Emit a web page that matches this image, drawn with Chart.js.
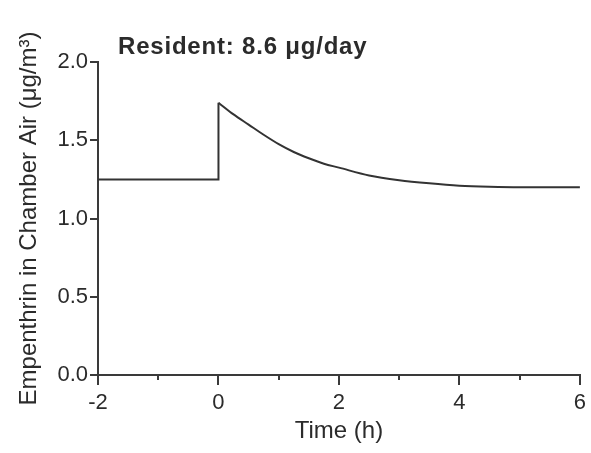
<!DOCTYPE html>
<html>
<head>
<meta charset="utf-8">
<script src="https://cdn.jsdelivr.net/npm/chart.js@4"></script>
<style>
    body { margin: 0; background: #fff; }
    #chart { display: block; }
</style>
</head>
<body>
<canvas id="chart" width="591" height="453"></canvas>
<script>
// values (time in h, concentration in ug/m3)
// before dosing + the step up at t = 0
const baseTimes = [-2, 0, 0];
const baseConc = [1.25, 1.25, 1.74];
// decay after the step
const decayTimes = [0, 0.25, 0.5, 0.75, 1, 1.25, 1.5, 1.75, 2, 2.5, 3, 3.5, 4, 4.5, 5, 5.5, 6];
const decayConc = [1.74, 1.665, 1.6, 1.535, 1.475, 1.425, 1.385, 1.35, 1.325, 1.275, 1.245, 1.225, 1.21, 1.203, 1.2, 1.2, 1.2];
const xTicks = [-2, 0, 2, 4, 6];
const xMinorTicks = [-1, 1, 3, 5];
const yTicks = [0, 0.5, 1, 1.5, 2];
const panelLabel = 'Resident: 8.6 \u03bcg/day';
const xTitle = 'Time (h)';
const yTitle = 'Empenthrin in Chamber Air (\u03bcg/m\u00b3)';

const FONT = "'Liberation Sans', Arial, sans-serif";
const INK = '#2b2b2b';
const AXIS = '#3a3a3a';

const toPoints = (xs, ys) => xs.map((t, i) => ({ x: t, y: ys[i] }));

// panel label in the upper left of the plot
const labelPlugin = {
    id: 'panelLabel',
    afterDraw(chart) {
        const ctx = chart.ctx;
        ctx.save();
        ctx.font = 'bold 24px ' + FONT;
        ctx.letterSpacing = '0.8px';
        ctx.fillStyle = INK;
        ctx.textBaseline = 'alphabetic';
        ctx.fillText(panelLabel, chart.chartArea.left + 20, 54);
        ctx.restore();
    }
};

const lineStyle = {
    showLine: true,
    borderColor: '#333',
    borderWidth: 2,
    pointRadius: 0,
    fill: false
};

new Chart(document.getElementById('chart'), {
    type: 'scatter',
    data: {
        datasets: [
            Object.assign({ data: toPoints(baseTimes, baseConc), tension: 0 }, lineStyle),
            Object.assign({ data: toPoints(decayTimes, decayConc), cubicInterpolationMode: 'monotone' }, lineStyle)
        ]
    },
    options: {
        responsive: false,
        animation: false,
        devicePixelRatio: 1,
        layout: { padding: { top: 62, right: 10, left: 0, bottom: 0 } },
        plugins: {
            legend: { display: false },
            tooltip: { enabled: false }
        },
        scales: {
            x: {
                type: 'linear',
                min: -2,
                max: 6,
                afterBuildTicks: scale => { scale.ticks = xTicks.map(v => ({ value: v })); },
                afterFit: scale => { scale.height = 78; },
                border: { color: AXIS, width: 2 },
                grid: { drawOnChartArea: false, drawTicks: true, tickLength: 10, tickColor: AXIS, lineWidth: 2 },
                ticks: {
                    color: INK,
                    padding: 5,
                    font: { family: FONT, size: 22 },
                    callback: v => String(v)
                },
                title: {
                    display: true,
                    text: xTitle,
                    color: INK,
                    font: { family: FONT, size: 24 },
                    padding: { top: 0, bottom: 7 }
                }
            },
            // minor ticks at the odd hours
            xMinor: {
                type: 'linear',
                position: 'bottom',
                weight: -1,
                min: -2,
                max: 6,
                afterBuildTicks: scale => { scale.ticks = xMinorTicks.map(v => ({ value: v })); },
                afterFit: scale => { scale.height = 0; },
                border: { display: false },
                grid: { drawOnChartArea: false, drawTicks: true, tickLength: 5, tickColor: AXIS, lineWidth: 2 },
                ticks: { display: false }
            },
            y: {
                type: 'linear',
                min: 0,
                max: 2,
                afterBuildTicks: scale => { scale.ticks = yTicks.map(v => ({ value: v })); },
                afterFit: scale => { scale.width = 98; },
                border: { color: AXIS, width: 2 },
                grid: { drawOnChartArea: false, drawTicks: true, tickLength: 8, tickColor: AXIS, lineWidth: 2 },
                ticks: {
                    color: INK,
                    padding: 2,
                    font: { family: FONT, size: 22 },
                    callback: v => v.toFixed(1)
                },
                title: {
                    display: true,
                    text: yTitle,
                    color: INK,
                    font: { family: FONT, size: 24 },
                    padding: { top: 15, bottom: 0 }
                }
            }
        }
    },
    plugins: [labelPlugin]
});
</script>
</body>
</html>
